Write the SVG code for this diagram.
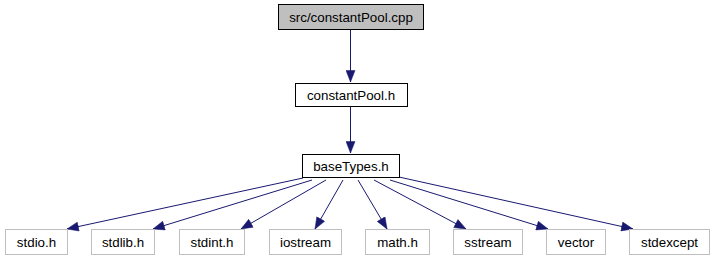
<svg xmlns="http://www.w3.org/2000/svg" width="714" height="261" viewBox="0 0 714 261">
  <style>
    .node rect { fill: #ffffff; stroke: #000000; stroke-width: 1; }
    .node.root rect { fill: #bfbfbf; }
    .node.ext rect { stroke: #bfbfbf; }
    .node text { font-family: "Liberation Sans", Arial, sans-serif; font-size: 13.33px; fill: #000000; text-anchor: middle; }
    .edges line { stroke: #191970; stroke-width: 1; fill: none; marker-end: url(#arrow); }
  </style>
  <defs>
    <marker id="arrow" markerUnits="userSpaceOnUse" markerWidth="13" markerHeight="10" viewBox="0 0 13 10" refX="12" refY="5" orient="auto">
      <path d="M0.5,0.5 L12,5 L0.5,9.5 Z" fill="#191970" stroke="#191970" stroke-width="0.5"/>
    </marker>
  </defs>
  <rect width="714" height="261" fill="#ffffff"/>

  <!-- include dependencies -->
  <g class="edges">
    <line x1="350.5" y1="30" x2="350.5" y2="82"/>
    <line x1="350.5" y1="107" x2="350.5" y2="153"/>
    <line x1="303" y1="178" x2="67" y2="229"/>
    <line x1="312" y1="180" x2="153" y2="229"/>
    <line x1="326" y1="180" x2="241" y2="229"/>
    <line x1="343" y1="180" x2="315" y2="229"/>
    <line x1="358" y1="180" x2="387" y2="229"/>
    <line x1="374" y1="180" x2="466" y2="229"/>
    <line x1="390" y1="180" x2="548" y2="229"/>
    <line x1="399" y1="177" x2="633" y2="229"/>
  </g>

  <g id="node-src-constantPool-cpp" class="node root">
    <rect x="278.5" y="4.5" width="145" height="25"/>
    <text x="351" y="22">src/constantPool.cpp</text>
  </g>
  <g id="node-constantPool-h" class="node">
    <rect x="295.5" y="83.5" width="112" height="23"/>
    <text x="351" y="100">constantPool.h</text>
  </g>
  <g id="node-baseTypes-h" class="node">
    <rect x="302.5" y="154.5" width="97" height="23"/>
    <text x="351" y="171">baseTypes.h</text>
  </g>
  <g id="node-stdio-h" class="node ext">
    <rect x="5.5" y="229.5" width="62" height="25"/>
    <text x="36.5" y="247">stdio.h</text>
  </g>
  <g id="node-stdlib-h" class="node ext">
    <rect x="91.5" y="229.5" width="63" height="25"/>
    <text x="123" y="247">stdlib.h</text>
  </g>
  <g id="node-stdint-h" class="node ext">
    <rect x="179.5" y="229.5" width="65" height="25"/>
    <text x="212" y="247">stdint.h</text>
  </g>
  <g id="node-iostream" class="node ext">
    <rect x="269.5" y="229.5" width="72" height="25"/>
    <text x="305.5" y="247">iostream</text>
  </g>
  <g id="node-math-h" class="node ext">
    <rect x="365.5" y="229.5" width="64" height="25"/>
    <text x="397.5" y="247">math.h</text>
  </g>
  <g id="node-sstream" class="node ext">
    <rect x="453.5" y="229.5" width="69" height="25"/>
    <text x="488" y="247">sstream</text>
  </g>
  <g id="node-vector" class="node ext">
    <rect x="546.5" y="229.5" width="59" height="25"/>
    <text x="576" y="247">vector</text>
  </g>
  <g id="node-stdexcept" class="node ext">
    <rect x="629.5" y="229.5" width="80" height="25"/>
    <text x="669.5" y="247">stdexcept</text>
  </g>
</svg>
